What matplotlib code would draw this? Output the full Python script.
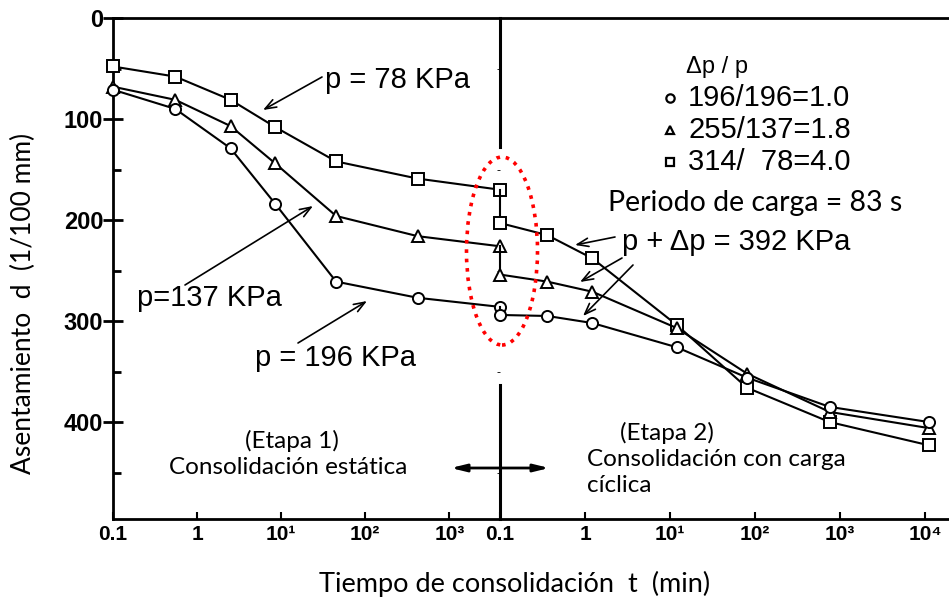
import matplotlib
matplotlib.use("Agg")
import matplotlib.pyplot as plt
from matplotlib.lines import Line2D
from matplotlib.patches import Ellipse

# --- data -------------------------------------------------------------
# stage 1: static consolidation, time in minutes
t_stage1 = [0.1, 0.55, 2.5, 8.5, 45, 420, 4000]
d1_square = [48, 58, 81, 108, 142, 159, 170]      # p = 78 KPa
d1_triangle = [68, 81, 107, 144, 196, 216, 226]   # p = 137 KPa
d1_circle = [71, 90, 129, 184, 261, 277, 286]     # p = 196 KPa

# stage 2: consolidation under cyclic load, time restarts at 0.1 min
t_stage2 = [0.1, 0.36, 1.22, 12, 80, 750, 11000]
d2_square = [203, 215, 238, 304, 366, 400, 423]
d2_triangle = [254, 261, 271, 307, 352, 390, 406]
d2_circle = [294, 295, 302, 326, 356, 385, 400]

ticks_stage1 = [0.1, 1, 10, 100, 1000]
labels_stage1 = ["0.1", "1", "10¹", "10²", "10³"]
ticks_stage2 = [0.1, 1, 10, 100, 1000, 10000]
labels_stage2 = ["0.1", "1", "10¹", "10²", "10³", "10⁴"]
y_ticks = [0, 100, 200, 300, 400]

legend_rows = ["196/196=1.0", "255/137=1.8", "314/  78=4.0"]
legend_marks = ["o", "^", "s"]

W, H = 949, 597
SCAN = ["Liberation Sans", "DejaVu Sans"]
BODY = ["Lato", "DejaVu Sans"]


def fxy(x, y):
    """pixel position in the reference -> figure fraction"""
    return x / W, 1 - y / H


fig = plt.figure(figsize=(W / 100, H / 100), dpi=100)
x0, y_top, x_mid, y_bot = 113, 18, 500, 519
ax1 = fig.add_axes([x0 / W, 1 - y_bot / H, (x_mid - x0) / W, (y_bot - y_top) / H])
ax2 = fig.add_axes([x_mid / W, 1 - y_bot / H, (W - x_mid) / W, (y_bot - y_top) / H],
                   sharey=ax1)

for ax in (ax1, ax2):
    ax.set_xscale("log")
    ax.set_facecolor("none")
    for side in ("top", "bottom", "left"):
        ax.spines[side].set_linewidth(2)
    ax.spines["right"].set_visible(False)
    ax.tick_params(axis="x", which="major", direction="in", length=5, width=1.5,
                   pad=4, labelsize=15)
    ax.tick_params(axis="x", which="minor", bottom=False, top=False)
ax2.spines["left"].set_visible(False)
ax2.tick_params(axis="y", left=False, labelleft=False)

ax1.set_xlim(0.1, 4000)
ax2.set_xlim(0.1, 19000)
ax1.set_ylim(496, 0)
ax1.set_xticks(ticks_stage1, labels_stage1, fontfamily=SCAN, fontweight="bold")
ax2.set_xticks(ticks_stage2, labels_stage2, fontfamily=SCAN, fontweight="bold")
ax1.set_yticks(y_ticks, [str(v) for v in y_ticks], fontfamily=SCAN,
               fontweight="bold", fontsize=17)
ax1.set_yticks([50, 150, 250, 350, 450], minor=True)
ax1.tick_params(axis="y", which="major", direction="inout", length=14, width=2, pad=0)
ax1.tick_params(axis="y", which="minor", direction="in", length=6, width=2)

style = dict(color="black", lw=1.5, ms=8, mfc="white", mec="black", mew=1.4,
             clip_on=False, zorder=3)
series = [("s", d1_square, d2_square), ("^", d1_triangle, d2_triangle),
          ("o", d1_circle, d2_circle)]
for mk, d1, d2 in series:
    ax1.plot(t_stage1, d1, marker=mk, **style)
    ax2.plot([t_stage2[0], t_stage2[0]], [d1[-1], d2[0]], color="black", lw=1.5,
             clip_on=False, zorder=2)
    ax2.plot(t_stage2, d2, marker=mk, **style)

# --- stage divider, double arrow and the red highlight -----------------
fig.add_artist(Line2D([fxy(500, 18)[0]] * 2, [fxy(0, 18)[1], fxy(0, 147)[1]],
                      color="black", lw=2.2))
fig.add_artist(Line2D([fxy(500, 385)[0]] * 2, [fxy(0, 385)[1], fxy(0, 519)[1]],
                      color="black", lw=2.2))
fig.add_artist(Ellipse(fxy(502, 251), 71 / W, 188 / H, fill=False, edgecolor="red",
                       linestyle=(0, (1, 1.6)), lw=2.6, zorder=5))
ax1.annotate("", xy=fxy(448, 468), xytext=fxy(552, 468), xycoords="figure fraction",
             textcoords="figure fraction",
             arrowprops=dict(arrowstyle="<|-|>,head_length=0.9,head_width=0.22",
                             color="black", lw=2))

# --- curve labels -------------------------------------------------------
arrow = dict(arrowstyle="->,head_length=0.8,head_width=0.3", color="black", lw=1.2,
             shrinkA=0, shrinkB=0)
fig.text(*fxy(325, 80), "p = 78 KPa", family=SCAN, fontsize=21, va="center")
fig.text(*fxy(137, 298), "p=137 KPa", family=SCAN, fontsize=21, va="center")
fig.text(*fxy(255, 358), "p = 196 KPa", family=SCAN, fontsize=21, va="center")
fig.text(*fxy(622, 242), "p + Δp = 392 KPa", family=SCAN, fontsize=21, va="center")
for tail, tip in [((322, 77), (263, 110)), ((185, 285), (313, 206)),
                  ((298, 343), (367, 301)), ((615, 237), (575, 245)),
                  ((622, 258), (580, 282)), ((633, 265), (583, 316))]:
    ax1.annotate("", xy=fxy(*tip), xytext=fxy(*tail), xycoords="figure fraction",
                 textcoords="figure fraction", arrowprops=arrow)

# --- legend block ---------------------------------------------------------
fig.text(*fxy(686, 67), "Δp / p", family=SCAN, fontsize=17, va="center")
for i, (row, mk) in enumerate(zip(legend_rows, legend_marks)):
    y = 98 + 32 * i
    fig.text(*fxy(688, y), row, family=SCAN, fontsize=21, va="center")
    fig.add_artist(Line2D([fxy(670, y)[0]], [fxy(670, y)[1]], marker=mk, ms=6,
                          mfc="white", mec="black", mew=1.6, ls="none"))

fig.text(*fxy(608, 203), "Periodo de carga = 83 s", family=BODY, fontsize=20.5,
         va="center")
fig.text(*fxy(292, 441), "(Etapa 1)", family=BODY, fontsize=17.5, ha="center",
         va="center")
fig.text(*fxy(288, 468), "Consolidación estática", family=BODY, fontsize=17.5,
         ha="center", va="center")
fig.text(*fxy(667, 433), "(Etapa 2)", family=BODY, fontsize=17.5, ha="center",
         va="center")
fig.text(*fxy(587, 459), "Consolidación con carga", family=BODY, fontsize=17.5,
         va="center")
fig.text(*fxy(587, 486), "cíclica", family=BODY, fontsize=17.5, va="center")

fig.text(*fxy(23, 303), "Asentamiento  d  (1/100 mm)", family=BODY, fontsize=19,
         rotation=90, ha="center", va="center")
fig.text(*fxy(515, 584), "Tiempo de consolidación  t  (min)", family=BODY,
         fontsize=19.5, ha="center", va="center")

fig.savefig("out.png", dpi=100)
